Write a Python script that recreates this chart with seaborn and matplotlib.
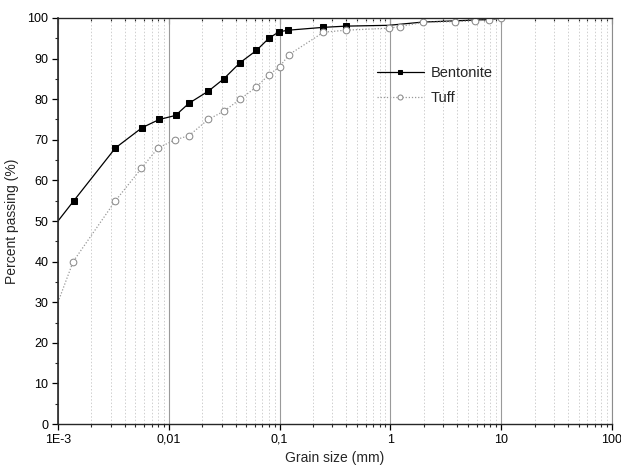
import numpy as np
import pandas as pd
import seaborn as sns

import matplotlib
matplotlib.use("Agg")  # headless mode (no GUI)

import matplotlib.pyplot as plt
from matplotlib.ticker import LogLocator, NullFormatter, MultipleLocator

sns.set_style("ticks")
plt.rcParams['font.family'] = ['Liberation Sans', 'DejaVu Sans']

# grain size (mm) and percent passing
# first point of each series sits on the left axis edge (line only, no marker)
bent_size = [0.001, 0.00139, 0.0033, 0.00575, 0.0082, 0.0115, 0.0152, 0.0228,
             0.0313, 0.044, 0.0617, 0.080, 0.0986, 0.12, 0.249, 0.398,
             0.97, 1.96, 3.85, 5.75, 7.7, 10.0]
bent_pass = [50, 55, 68, 73, 75, 76, 79, 82,
             85, 89, 92, 95, 96.6, 97, 97.7, 98,
             98.2, 99, 99.3, 99.5, 99.6, 100]

tuff_size = [0.001, 0.00137, 0.0033, 0.00567, 0.0080, 0.0114, 0.0152, 0.0226,
             0.0313, 0.044, 0.0617, 0.080, 0.1, 0.122, 0.249, 0.4,
             0.97, 1.22, 1.96, 3.85, 5.75, 7.7, 10.0]
tuff_pass = [30, 40, 55, 63, 68, 70, 71, 75,
             77, 80, 83, 86, 88, 91, 96.5, 97,
             97.5, 97.9, 98.9, 99.1, 99.3, 99.5, 100]

x_ticks = [0.001, 0.01, 0.1, 1, 10, 100]
x_labels = ["1E-3", "0,01", "0,1", "1", "10", "100"]

fig = plt.figure(figsize=(6.21, 4.73), dpi=100)
ax = fig.add_axes([58 / 621, 49 / 473, 554 / 621, 406 / 473])

# bentonite markers past 0.4 mm are hidden under the tuff circles in the original
sns.lineplot(x=bent_size, y=bent_pass, ax=ax, color="black", lw=0.9,
             marker="s", markersize=4.2, markerfacecolor="black",
             markeredgecolor="black", markevery=list(range(1, 16)),
             label="Bentonite", sort=False, estimator=None)
sns.lineplot(x=tuff_size, y=tuff_pass, ax=ax, color="#999999", lw=0.9,
             linestyle=(0, (1, 1.5)), marker="o", markersize=4.8,
             markerfacecolor="white", markeredgecolor="#8c8c8c",
             markevery=list(range(1, len(tuff_size))),
             label="Tuff", sort=False, estimator=None)

ax.set_xscale("log")
ax.set_xlim(0.001, 100)
ax.set_ylim(0, 100)
ax.set_xticks(x_ticks, labels=x_labels)
ax.xaxis.set_minor_locator(LogLocator(base=10, subs=np.arange(2, 10)))
ax.xaxis.set_minor_formatter(NullFormatter())
ax.yaxis.set_major_locator(MultipleLocator(10))
ax.yaxis.set_minor_locator(MultipleLocator(5))

ax.grid(which="major", axis="x", color="#9a9a9a", lw=0.8, ls="-")
ax.grid(which="minor", axis="x", color="#cfcfcf", lw=0.7, ls=(0, (1.5, 2)))
ax.set_axisbelow(True)

ax.tick_params(axis="both", which="major", direction="out", length=4,
               width=0.9, labelsize=9, pad=3, colors="black")
ax.tick_params(axis="both", which="minor", direction="out", length=2.5, width=0.8)

ax.spines["left"].set_linewidth(1.2)
ax.spines["bottom"].set_linewidth(1.0)
ax.spines["top"].set_linewidth(0.9)
ax.spines["right"].set_linewidth(0.8)
ax.spines["right"].set_color("#8c8c8c")

top = ax.secondary_xaxis("top")
top.set_xticks(x_ticks, labels=[""] * len(x_ticks))
top.xaxis.set_minor_locator(LogLocator(base=10, subs=np.arange(2, 10)))
top.xaxis.set_minor_formatter(NullFormatter())
top.tick_params(which="major", direction="in", length=4, width=0.8)
top.tick_params(which="minor", direction="in", length=2.5, width=0.8)

ax.set_xlabel("Grain size (mm)", fontsize=10, labelpad=4)
ax.set_ylabel("Percent passing (%)", fontsize=10, labelpad=6)

ax.legend(loc="upper left", bbox_to_anchor=(0.565, 0.895), frameon=False,
          fontsize=10.5, handlelength=3.2, handletextpad=0.5, labelspacing=0.75,
          borderaxespad=0, markerscale=0.75)

plt.savefig("out.png", dpi=100)
